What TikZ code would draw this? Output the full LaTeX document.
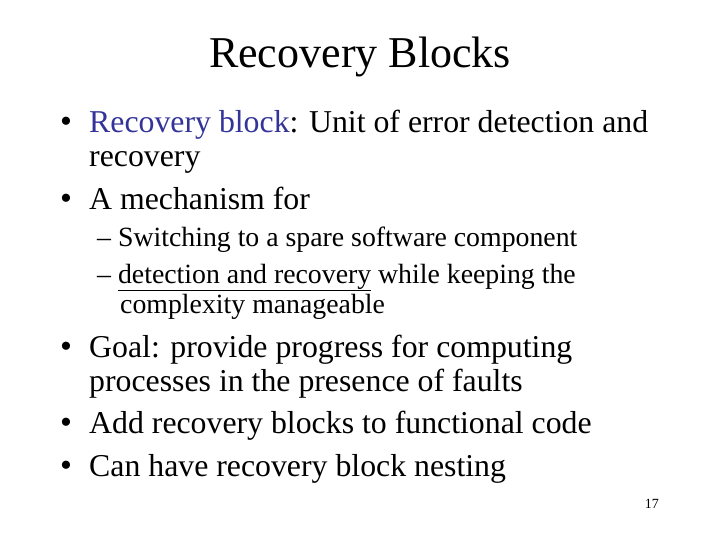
\documentclass[tikz,border=0pt]{standalone}
\usepackage{fontspec}
\setmainfont{Liberation Serif}
\usetikzlibrary{positioning}
\definecolor{keyblue}{RGB}{51,51,153}
\begin{document}
\begin{tikzpicture}[x=1pt,y=-1pt,
    line/.style={anchor=base west,inner sep=0pt,font=\fontsize{31.8}{36}\selectfont},
    subline/.style={anchor=base west,inner sep=0pt,font=\fontsize{27.8}{32}\selectfont},
    dot/.style={anchor=base west,inner sep=0pt,font=\fontsize{34}{36}\selectfont}]
\useasboundingbox (0,0) rectangle (720,540);
\node[anchor=base,inner sep=0pt,font=\fontsize{44}{50}\selectfont] (title) at (360,68) {Recovery Blocks};
% main bullets
\node[dot] (b1) at (60,133) {•};
\node[line] (l1) at (89,133) {\textcolor{keyblue}{Recovery block}: Unit of error detection and};
\node[line] (l1b) at (89,167) {recovery};
\node[dot] (b2) at (60,210) {•};
\node[line] (l2) at (89,210) {A mechanism for};
% sub items
\node[subline] (s1) at (97,247) {– Switching to a spare software component};
\node[subline] (s2) at (97,283) {– \underline{detection and recovery} while keeping the};
\node[subline] (s2b) at (120,313) {complexity manageable};
\node[dot] (b3) at (60,357) {•};
\node[line] (l3) at (89,357) {Goal: provide progress for computing};
\node[line] (l3b) at (89,391) {processes in the presence of faults};
\node[dot] (b4) at (60,433) {•};
\node[line] (l4) at (89,433) {Add recovery blocks to functional code};
\node[dot] (b5) at (60,476) {•};
\node[line] (l5) at (89,476) {Can have recovery block nesting};
\node[anchor=base east,inner sep=0pt,font=\fontsize{14}{16}\selectfont] (page) at (659,508) {17};
\end{tikzpicture}
\end{document}
